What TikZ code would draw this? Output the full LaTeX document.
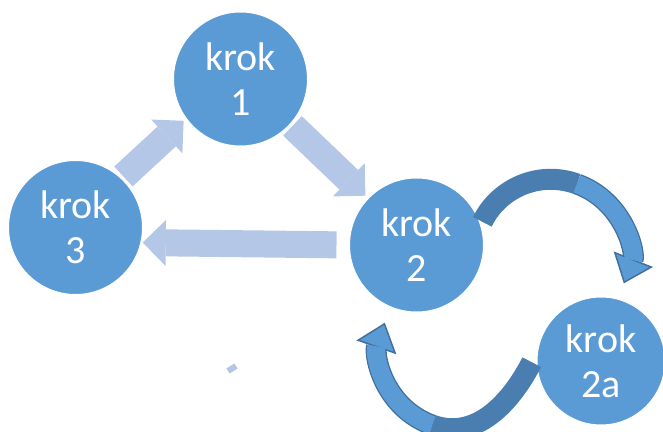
\documentclass[tikz,border=0pt]{standalone}
\usepackage{fontspec}
\setmainfont{Carlito}
\usetikzlibrary{arrows.meta}
\definecolor{stepfill}{HTML}{5B9BD5}
\definecolor{paleblue}{HTML}{B4C7E7}
\definecolor{deepblue}{HTML}{4A7EB0}
\definecolor{edgeblue}{HTML}{41719C}
\tikzset{
  stepnode/.style={circle, fill=stepfill, draw=white, line width=0.5pt, text=white,
    align=center, minimum size=67pt, inner sep=0pt, outer sep=0pt,
    font=\fontsize{20}{22.5}\selectfont},
  flatarr/.style={draw=paleblue, line width=13.5pt,
    -{Triangle[width=23pt, length=11.5pt, line width=0pt]}},
  bandback/.style={draw=deepblue, line width=10.5pt},
  bandfront/.style={draw=stepfill, line width=9pt, shorten >=8.5pt,
    -{Triangle[width=21pt, length=13pt, line width=0.75pt, color=edgeblue, fill=stepfill]},
    preaction={draw=edgeblue, line width=10.5pt, -, shorten >=21pt},
    postaction={draw=stepfill, line width=9pt, -, shorten >=21pt}}
}
\begin{document}
\begin{tikzpicture}[x=0.5pt, y=-0.5pt]
  \useasboundingbox (0,0) rectangle (663,432);
  \node[stepnode] (krok1) at (240.5,79) {krok\\1};
  \node[stepnode] (krok3) at (75.5,227.5) {krok\\3};
  \node[stepnode] (krok2) at (416.5,245) {krok\\2};
  \node[stepnode, minimum size=64pt] (krok2a) at (601,361) {krok\\2a};
  \draw[flatarr, shorten <=1.5pt, shorten >=1.8pt] (krok3.47) -- (krok1.216);
  \draw[flatarr, shorten <=1.5pt, shorten >=2pt] (krok1.-42) -- (krok2.136);
  \draw[flatarr, shorten <=6.5pt, shorten >=1pt] (krok2.180) -- (krok3.-13);
  \coordinate (twistA) at (577,184);
  \coordinate (twistB) at (432,425);
  \draw[bandback, shorten <=2pt] (krok2.17) to[out=64, in=160] (twistA);
  \draw[bandfront] (twistA) to[out=-20, in=68.5, looseness=1.05] (krok2a.75);
  \draw[bandback, shorten <=6.9pt] (krok2a.170) to[out=-117, in=-20] (twistB);
  \draw[bandfront] (twistB) to[out=160, in=-109, looseness=1.05] (krok2.247);
  \draw[paleblue, line width=3pt] (228,371) -- (236,366);
\end{tikzpicture}
\end{document}
